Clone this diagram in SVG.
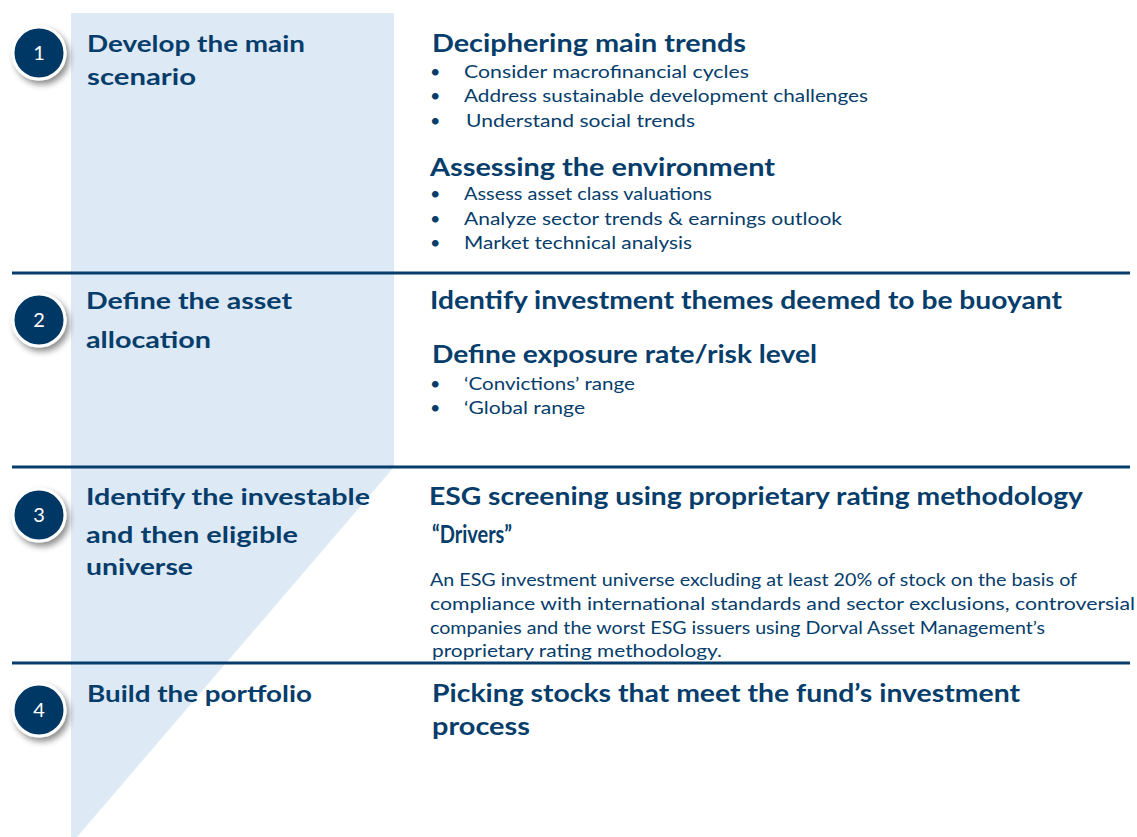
<svg xmlns="http://www.w3.org/2000/svg" width="1137" height="837" viewBox="0 0 1137 837">
<style>
text{font-family:Lato,"Open Sans","Liberation Sans",sans-serif;fill:#063d6b}
.st{font-size:23px;font-weight:700}
.h{font-size:24px;font-weight:700}
.b{font-size:18px}
.p{font-size:17px}
.num{font-size:20px;fill:#ffffff;text-anchor:middle}
.sep{stroke:#063d6b;stroke-width:3}
</style>
<defs>
<filter id="sh" x="-50%" y="-50%" width="200%" height="200%">
<feDropShadow dx="3" dy="4" stdDeviation="3" flood-color="#000" flood-opacity="0.45"/>
</filter>
<g id="badge"><circle r="26" fill="#003865" stroke="#ffffff" stroke-width="3" filter="url(#sh)"/></g>
</defs>
<rect width="1137" height="837" fill="#ffffff"/>
<polygon id="funnel" points="71,13 394,13 394,467 77,837 71,837" fill="#dde9f5"/>
<g id="connectors">
<line class="sep" x1="12" y1="273" x2="1130" y2="273"/>
<line class="sep" x1="12" y1="467" x2="1130" y2="467"/>
<line class="sep" x1="12" y1="663" x2="1130" y2="663"/>
</g>
<g id="step1">
<use href="#badge" x="39" y="53"/>
<text class="num" x="39" y="60">1</text>
<text class="st" x="87" y="52" textLength="218" lengthAdjust="spacingAndGlyphs">Develop the main</text>
<text class="st" x="87" y="85" textLength="109" lengthAdjust="spacingAndGlyphs">scenario</text>
</g>
<g id="detail1">
<text class="h" x="432" y="52" textLength="314" lengthAdjust="spacingAndGlyphs">Deciphering main trends</text>
<text class="b" x="430" y="78">•</text><text class="b" x="464" y="78" textLength="285" lengthAdjust="spacingAndGlyphs">Consider macrofinancial cycles</text>
<text class="b" x="430" y="102">•</text><text class="b" x="464" y="102" textLength="404" lengthAdjust="spacingAndGlyphs">Address sustainable development challenges</text>
<text class="b" x="430" y="127">•</text><text class="b" x="466" y="127" textLength="229" lengthAdjust="spacingAndGlyphs">Understand social trends</text>
<text class="h" x="430" y="176" textLength="345" lengthAdjust="spacingAndGlyphs">Assessing the environment</text>
<text class="b" x="430" y="200">•</text><text class="b" x="464" y="200" textLength="248" lengthAdjust="spacingAndGlyphs">Assess asset class valuations</text>
<text class="b" x="430" y="225">•</text><text class="b" x="464" y="225" textLength="378" lengthAdjust="spacingAndGlyphs">Analyze sector trends &amp; earnings outlook</text>
<text class="b" x="430" y="249">•</text><text class="b" x="464" y="249" textLength="228" lengthAdjust="spacingAndGlyphs">Market technical analysis</text>
</g>
<g id="step2">
<use href="#badge" x="39" y="320"/>
<text class="num" x="39" y="327">2</text>
<text class="st" x="86" y="309" textLength="206" lengthAdjust="spacingAndGlyphs">Define the asset</text>
<text class="st" x="86" y="348" textLength="125" lengthAdjust="spacingAndGlyphs">allocation</text>
</g>
<g id="detail2">
<text class="h" x="430" y="309" textLength="632" lengthAdjust="spacingAndGlyphs">Identify investment themes deemed to be buoyant</text>
<text class="h" x="432" y="363" textLength="385" lengthAdjust="spacingAndGlyphs">Define exposure rate/risk level</text>
<text class="b" x="430" y="390">•</text><text class="b" x="464" y="390" textLength="171" lengthAdjust="spacingAndGlyphs">‘Convictions’ range</text>
<text class="b" x="430" y="414">•</text><text class="b" x="464" y="414" textLength="121" lengthAdjust="spacingAndGlyphs">‘Global range</text>
</g>
<g id="step3">
<use href="#badge" x="39" y="515"/>
<text class="num" x="39" y="522">3</text>
<text class="st" x="86" y="505" textLength="284" lengthAdjust="spacingAndGlyphs">Identify the investable</text>
<text class="st" x="86" y="543" textLength="212" lengthAdjust="spacingAndGlyphs">and then eligible</text>
<text class="st" x="86" y="575" textLength="107" lengthAdjust="spacingAndGlyphs">universe</text>
</g>
<g id="detail3">
<text class="h" x="429" y="505" textLength="654" lengthAdjust="spacingAndGlyphs">ESG screening using proprietary rating methodology</text>
<text class="h" x="432" y="543" textLength="80" lengthAdjust="spacingAndGlyphs">“Drivers”</text>
<text class="p" x="430" y="586" textLength="647" lengthAdjust="spacingAndGlyphs">An ESG investment universe excluding at least 20% of stock on the basis of</text>
<text class="p" x="430" y="610" textLength="705" lengthAdjust="spacingAndGlyphs">compliance with international standards and sector exclusions, controversial</text>
<text class="p" x="430" y="634" textLength="615" lengthAdjust="spacingAndGlyphs">companies and the worst ESG issuers using Dorval Asset Management’s</text>
<text class="p" x="432" y="657" textLength="290" lengthAdjust="spacingAndGlyphs">proprietary rating methodology.</text>
</g>
<g id="step4">
<use href="#badge" x="39" y="710"/>
<text class="num" x="39" y="717">4</text>
<text class="st" x="87" y="702" textLength="225" lengthAdjust="spacingAndGlyphs">Build the portfolio</text>
</g>
<g id="detail4">
<text class="h" x="432" y="702" textLength="588" lengthAdjust="spacingAndGlyphs">Picking stocks that meet the fund’s investment</text>
<text class="h" x="432" y="735" textLength="98" lengthAdjust="spacingAndGlyphs">process</text>
</g>
</svg>
